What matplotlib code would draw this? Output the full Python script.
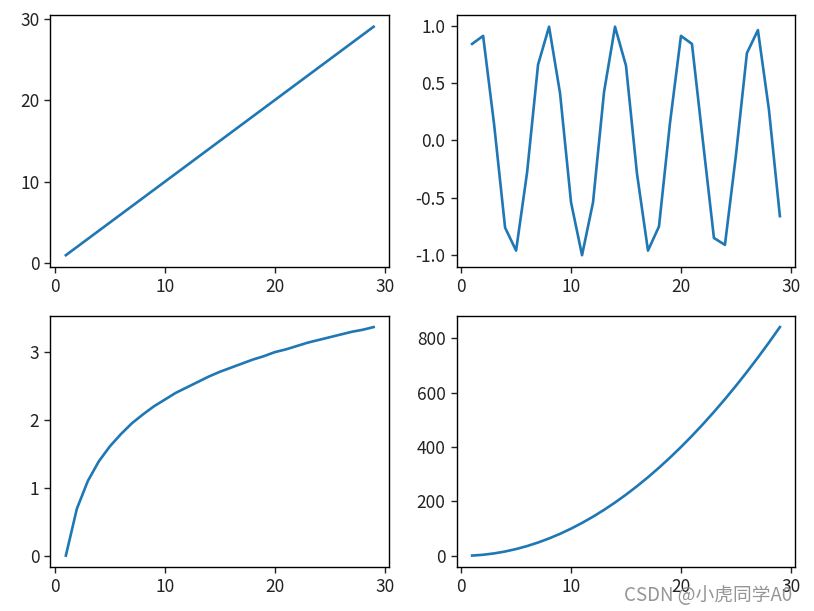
import matplotlib
matplotlib.use("Agg")
import matplotlib.pyplot as plt
from matplotlib.ticker import MultipleLocator

plt.rcParams['font.family'] = ['Noto Sans CJK SC', 'DejaVu Sans']
plt.rcParams['axes.unicode_minus'] = False

x = list(range(1, 30))
y_line = [1, 2, 3, 4, 5, 6, 7, 8, 9, 10, 11, 12, 13, 14, 15, 16, 17, 18, 19, 20,
          21, 22, 23, 24, 25, 26, 27, 28, 29]
y_wave = [0.84, 0.91, 0.14, -0.76, -0.96, -0.28, 0.66, 0.99, 0.41, -0.54,
          -1.00, -0.54, 0.42, 0.99, 0.65, -0.29, -0.96, -0.75, 0.15, 0.91,
          0.84, -0.01, -0.85, -0.91, -0.13, 0.76, 0.96, 0.27, -0.66]
y_log = [0.00, 0.69, 1.10, 1.39, 1.61, 1.79, 1.95, 2.08, 2.20, 2.30,
         2.40, 2.48, 2.56, 2.64, 2.71, 2.77, 2.83, 2.89, 2.94, 3.00,
         3.04, 3.09, 3.14, 3.18, 3.22, 3.26, 3.30, 3.33, 3.37]
y_square = [1, 4, 9, 16, 25, 36, 49, 64, 81, 100, 121, 144, 169, 196, 225,
            256, 289, 324, 361, 400, 441, 484, 529, 576, 625, 676, 729, 784, 841]

# y tick steps per panel
y_steps = [10, 0.5, 1, 200]

fig, axes = plt.subplots(2, 2, figsize=(8.14, 6.11), dpi=100)
fig.subplots_adjust(left=0.062, right=0.977, top=0.975, bottom=0.072,
                    wspace=0.2, hspace=0.195)

for ax, y, step in zip(axes.flat, [y_line, y_wave, y_log, y_square], y_steps):
    ax.plot(x, y, color="#1f77b4", linewidth=1.9)
    ax.xaxis.set_major_locator(MultipleLocator(10))
    ax.yaxis.set_major_locator(MultipleLocator(step))
    ax.tick_params(labelsize=12.5, length=4.5, width=1.0, colors="#222222")
    for sp in ax.spines.values():
        sp.set_linewidth(1.0)

fig.text(0.766, 0.016, "CSDN @小虎同学A0", color="#8a8a8a", fontsize=13.5, alpha=0.9)

plt.savefig("out.png")
